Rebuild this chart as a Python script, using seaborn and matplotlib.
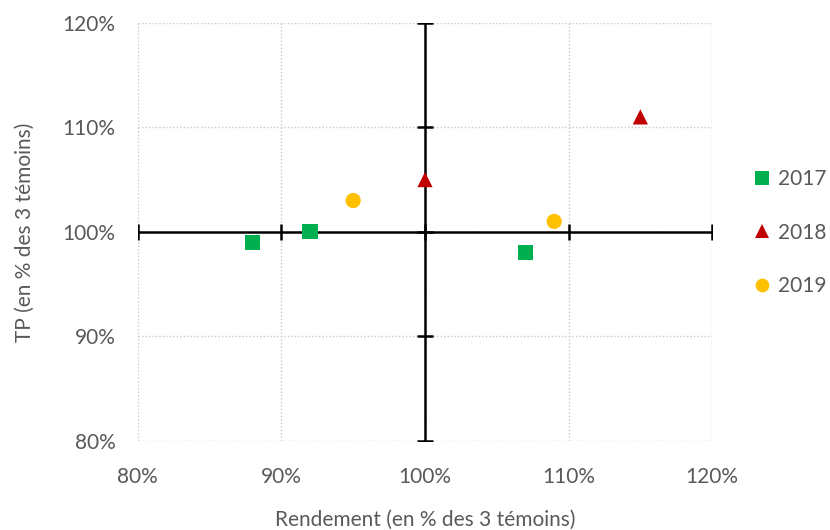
import matplotlib
matplotlib.use("Agg")
import matplotlib.pyplot as plt
import seaborn as sns
import pandas as pd
from matplotlib.ticker import FuncFormatter

years = ["2017", "2017", "2017", "2018", "2018", "2019", "2019"]
rendement = [88, 92, 107, 100, 115, 95, 109]
tp = [99, 100, 98, 105, 111, 103, 101]
ticks = [80, 90, 100, 110, 120]

df = pd.DataFrame({"Année": years, "Rendement": rendement, "TP": tp})

sns.set_theme(style="white")
plt.rcParams["font.family"] = ["Lato", "DejaVu Sans"]

fig = plt.figure(figsize=(8.3, 5.3), dpi=100)
ax = fig.add_axes([0.166, 0.168, 0.692, 0.789])

palette = {"2017": "#00B050", "2018": "#C00000", "2019": "#FFC000"}
markers = {"2017": "s", "2018": "^", "2019": "o"}

# grid
ax.set_xlim(80, 120)
ax.set_ylim(80, 120)
ax.set_xticks(ticks)
ax.set_yticks(ticks)
ax.grid(True, color="#C8C8C8", linestyle=(0, (1, 1.5)), linewidth=1)
for s in ax.spines.values():
    s.set_visible(False)

# crossing axes
ax.plot([80, 120], [100, 100], color="black", lw=1.8, zorder=2)
ax.plot([100, 100], [80, 120], color="black", lw=1.8, zorder=2)
ax.plot(ticks, [100] * len(ticks), ls="none", marker="|", ms=12, mew=1.8, color="black", zorder=2)
ax.plot([100] * len(ticks), ticks, ls="none", marker="_", ms=12, mew=1.8, color="black", zorder=2)

sns.scatterplot(data=df, x="Rendement", y="TP", hue="Année", style="Année",
                palette=palette, markers=markers, s=120, linewidth=0,
                ax=ax, zorder=3, legend=True)

fmt = FuncFormatter(lambda v, p: f"{int(round(v))}%")
ax.xaxis.set_major_formatter(fmt)
ax.yaxis.set_major_formatter(fmt)
ax.tick_params(axis="both", colors="#595959", labelsize=15, length=0)
ax.tick_params(axis="x", pad=19)
ax.tick_params(axis="y", pad=16)
ax.set_xlabel("Rendement (en % des 3 témoins)", color="#595959", fontsize=15, labelpad=16)
ax.set_ylabel("TP (en % des 3 témoins)", color="#595959", fontsize=15, labelpad=20)

h, l = ax.get_legend_handles_labels()
ax.get_legend().remove()
leg = fig.legend(h, l, loc="center left", bbox_to_anchor=(0.898, 0.561), frameon=False,
                 fontsize=15, labelspacing=1.6, handletextpad=0.35, markerscale=0.9,
                 borderaxespad=0, handlelength=0.8)
for t in leg.get_texts():
    t.set_color("#595959")

fig.savefig("out.png", dpi=100)
